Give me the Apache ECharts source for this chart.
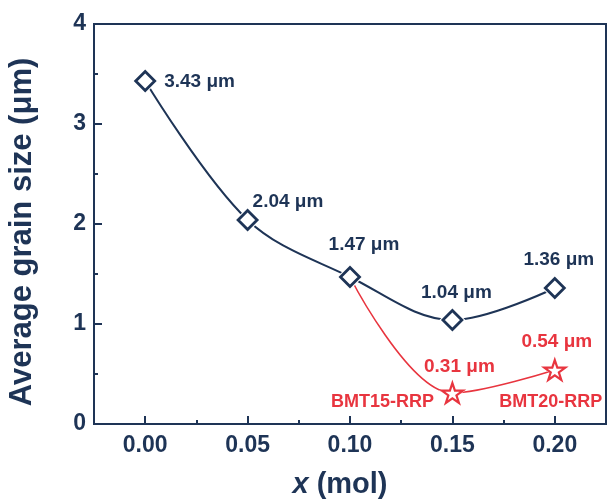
<!DOCTYPE html>
<html>
<head>
<meta charset="utf-8">
<script src="https://cdn.jsdelivr.net/npm/echarts@6/dist/echarts.min.js"></script>
<style>html,body{margin:0;padding:0;background:#fff}#c{width:609px;height:499px}</style>
</head>
<body>
<div id="c"></div>
<script>
// ---- data ----
const xMol = [0.00, 0.05, 0.10, 0.15, 0.20];
const grainSize = [3.43, 2.04, 1.47, 1.04, 1.36];
const rrpX = [0.15, 0.20];
const rrpSize = [0.31, 0.54];
const rrpNames = ['BMT15-RRP', 'BMT20-RRP'];
const xTicks = [0.00, 0.05, 0.10, 0.15, 0.20];
const xMinorTicks = [0.025, 0.075, 0.125, 0.175];

// ---- styles ----
const NAVY = '#1e3456';
const RED = '#e8353f';
const FONT = 'Liberation Sans, Arial, sans-serif';
const navyLabelStyle = [
  {align: 'left', offset: [19, 1]},
  {align: 'left', offset: [5, -18]},
  {align: 'center', offset: [14, -32]},
  {align: 'center', offset: [4, -27]},
  {align: 'center', offset: [4, -28]}
];
const redLabelStyle = [
  {align: 'center', offset: [7, -26]},
  {align: 'center', offset: [2, -28]}
];
const nameLabelStyle = [
  {align: 'center', offset: [-70, 9]},
  {align: 'center', offset: [-4, 32]}
];
const starPath = 'path://M50,2 L61.8,37.6 L99,37.6 L68.9,59.6 L80.4,95 L50,73.2 L19.6,95 L31.1,59.6 L1,37.6 L38.2,37.6 Z';

const navyPts = xMol.map((x, i) => [x, grainSize[i]]);
const rrpPts = rrpX.map((x, i) => [x, rrpSize[i]]);
const redLine = [[xMol[2], grainSize[2]]].concat(rrpPts);
const fmt = v => v.toFixed(2) + ' μm';
const lbl = (color, size) => ({fontFamily: FONT, fontWeight: 'bold', fontSize: size, color: color,
  verticalAlign: 'middle', textBorderWidth: 0, opacity: 1});

const chart = echarts.init(document.getElementById('c'));
chart.setOption({
  animation: false,
  grid: {left: 94, right: 3, top: 24, bottom: 75, containLabel: false, outerBoundsMode: 'none',
    show: true, borderColor: NAVY, borderWidth: 2, backgroundColor: 'transparent'},
  xAxis: [{
    type: 'value', min: -0.025, max: 0.225,
    name: '{i|x} (mol)', nameLocation: 'middle', nameGap: 46,
    nameTextStyle: {fontFamily: FONT, fontWeight: 'bold', fontSize: 29, color: NAVY, padding: [0, 20, 0, 0],
      rich: {i: {fontFamily: FONT, fontWeight: 'bold', fontStyle: 'italic', fontSize: 29, color: NAVY}}},
    axisLine: {show: true, onZero: false, lineStyle: {color: NAVY, width: 2}},
    axisTick: {show: true, inside: true, length: 8, customValues: xTicks, lineStyle: {color: NAVY, width: 2}},
    axisLabel: {show: true, customValues: xTicks, formatter: v => v.toFixed(2), margin: 10,
      fontFamily: FONT, fontWeight: 'bold', fontSize: 23, color: NAVY},
    splitLine: {show: false}
  }, {
    type: 'value', min: -0.025, max: 0.225, position: 'bottom',
    axisLine: {show: false, onZero: false},
    axisTick: {show: true, inside: true, length: 4, customValues: xMinorTicks, lineStyle: {color: NAVY, width: 2}},
    axisLabel: {show: false},
    splitLine: {show: false}
  }],
  yAxis: {
    type: 'value', min: 0, max: 4, interval: 1,
    name: 'Average grain size (μm)', nameLocation: 'middle', nameGap: 56,
    nameTextStyle: {fontFamily: FONT, fontWeight: 'bold', fontSize: 31, color: NAVY, padding: [0, 16, 0, 0]},
    axisLine: {show: true, onZero: false, lineStyle: {color: NAVY, width: 2}},
    axisTick: {show: true, inside: true, length: 8, lineStyle: {color: NAVY, width: 2}},
    minorTick: {show: true, splitNumber: 2, length: 4, lineStyle: {color: NAVY, width: 2}},
    axisLabel: {margin: 8, fontFamily: FONT, fontWeight: 'bold', fontSize: 23, color: NAVY},
    splitLine: {show: false}, minorSplitLine: {show: false}
  },
  series: [
    {type: 'line', data: navyPts, smooth: 0.35, symbol: 'none', lineStyle: {color: NAVY, width: 2}, z: 2},
    {type: 'line', data: redLine, smooth: 0.35, symbol: 'none', lineStyle: {color: RED, width: 1.6}, z: 2},
    {type: 'scatter', data: navyPts, symbol: 'diamond', symbolSize: 26, itemStyle: {color: '#fff', opacity: 1}, z: 3, silent: true},
    {type: 'scatter', z: 3, silent: true, symbol: starPath, symbolKeepAspect: true, symbolSize: 27,
      itemStyle: {color: '#fff', opacity: 1},
      data: rrpPts.map((p, i) => ({value: p, label: Object.assign({show: true, position: 'inside', formatter: rrpNames[i]}, nameLabelStyle[i])})),
      label: lbl(RED, 18)},
    {type: 'scatter', z: 4, symbol: 'diamond', symbolSize: 19,
      itemStyle: {color: '#fff', borderColor: NAVY, borderWidth: 2.8, opacity: 1},
      data: navyPts.map((p, i) => ({value: p, label: Object.assign({show: true, position: 'inside', formatter: fmt(p[1])}, navyLabelStyle[i])})),
      label: lbl(NAVY, 19)},
    {type: 'scatter', z: 4, symbol: starPath, symbolKeepAspect: true, symbolSize: 21,
      itemStyle: {color: '#fff', borderColor: RED, borderWidth: 2.2, opacity: 1},
      data: rrpPts.map((p, i) => ({value: p, label: Object.assign({show: true, position: 'inside', formatter: fmt(p[1])}, redLabelStyle[i])})),
      label: lbl(RED, 19)}
  ]
});
</script>
</body>
</html>
